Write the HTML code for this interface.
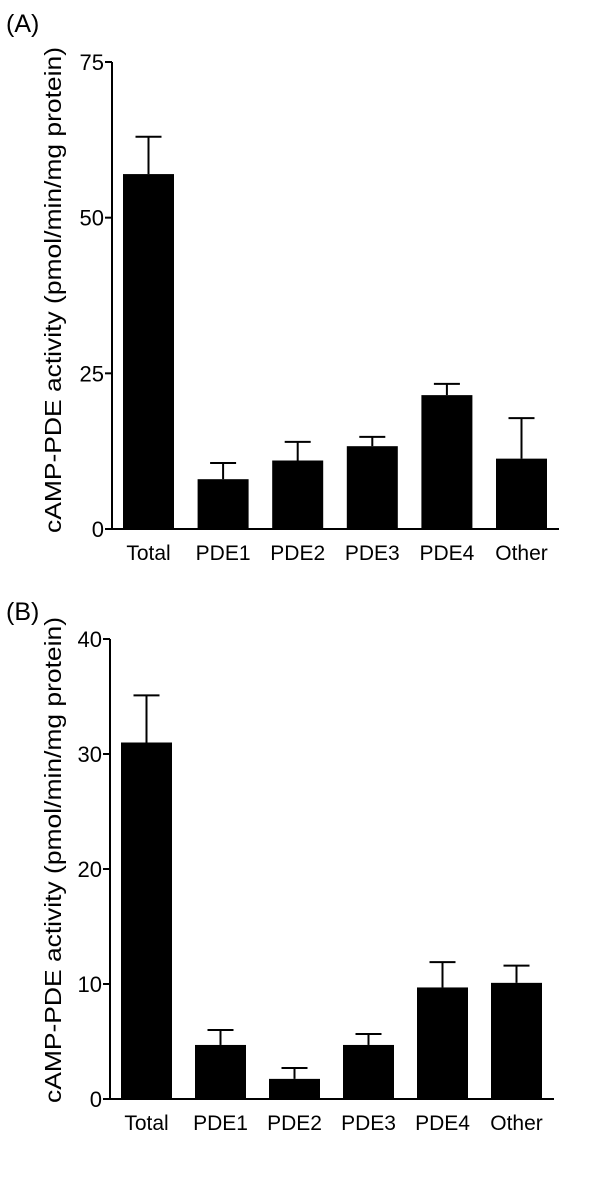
<!DOCTYPE html>
<html><head><meta charset="utf-8"><style>
body{margin:0;background:#fff;}
svg text{font-family:"Liberation Sans",sans-serif;fill:#000;}
</style></head><body>
<svg id="chart" width="600" height="1175" xmlns="http://www.w3.org/2000/svg"></svg>
<script>
const categories = ["Total","PDE1","PDE2","PDE3","PDE4","Other"];
const valuesA = [57, 8.0, 11.0, 13.3, 21.5, 11.3];
const errorsA = [63, 10.6, 14.0, 14.8, 23.3, 17.8];
const ticksA = [0, 25, 50, 75];
const valuesB = [31.0, 4.7, 1.75, 4.7, 9.7, 10.1];
const errorsB = [35.1, 6.0, 2.7, 5.65, 11.9, 11.6];
const ticksB = [0, 10, 20, 30, 40];

const svg = document.getElementById('chart');
const NS = "http://www.w3.org/2000/svg";
function mk(tag, attrs, parent){
  const e = document.createElementNS(NS, tag);
  for (const k in attrs) e.setAttribute(k, attrs[k]);
  (parent||svg).appendChild(e);
  return e;
}
function panel(cfg){
  const g = mk('g', {});
  
  
  const y = v => cfg.y0 - v / cfg.ymax * (cfg.y0 - cfg.yTop);
  const x = i => cfg.x0 + i * cfg.step;
  const lbl = mk('text', {x: 6, y: cfg.labelY, 'font-size': 25}, g);
  lbl.textContent = '(' + cfg.id + ')';
  
  
  const ya = mk('line', {x1: cfg.ax, x2: cfg.ax, y1: y(cfg.ymax), y2: cfg.y0, stroke: '#000', 'stroke-width': 2}, g);
  
  
  const xa = mk('line', {x1: cfg.ax - 1, x2: cfg.xEnd, y1: cfg.y0, y2: cfg.y0, stroke: '#000', 'stroke-width': 2}, g);
  
  
  cfg.ticks.forEach(t => {
    mk('line', {x1: cfg.ax - 7, x2: cfg.ax, y1: y(t), y2: y(t), stroke: '#000', 'stroke-width': 2}, g);
    const tx = mk('text', {x: cfg.ax - 8, y: y(t) + 8, 'font-size': 22, 'text-anchor': 'end'}, g);
    tx.textContent = t;
    
    
  });
  const title = mk('text', {x: 0, y: 0, 'font-size': 23, 'text-anchor': 'middle',
    textLength: cfg.titleLen, lengthAdjust: 'spacingAndGlyphs',
    transform: 'translate(61,' + cfg.titleY + ') rotate(-90)'}, g);
  title.textContent = 'cAMP-PDE activity (pmol/min/mg protein)';
  
  
  categories.forEach((c, i) => {
    const bx = x(i), w = cfg.bw, cx = bx + w / 2;
    const el = mk('line', {x1: cx, x2: cx, y1: y(cfg.errs[i]), y2: y(cfg.vals[i]), stroke: '#000', 'stroke-width': 2}, g);
    
    
    const cap = mk('line', {x1: cx - 13, x2: cx + 13, y1: y(cfg.errs[i]), y2: y(cfg.errs[i]), stroke: '#000', 'stroke-width': 2}, g);
    
    
    const r = mk('rect', {x: bx, y: y(cfg.vals[i]), width: w, height: cfg.y0 - y(cfg.vals[i]), fill: '#000'}, g);
    
    
    const t = mk('text', {x: cx, y: cfg.y0 + 31, 'font-size': 21, 'text-anchor': 'middle'}, g);
    t.textContent = c;
    
    
  });
}
panel({id: 'A', labelY: 32, ax: 112, xEnd: 559, y0: 529, yTop: 62, ymax: 75, ticks: ticksA,
  x0: 123, step: 74.6, bw: 51, vals: valuesA, errs: errorsA, titleY: 290, titleLen: 486});
panel({id: 'B', labelY: 620, ax: 110, xEnd: 554, y0: 1099, yTop: 639, ymax: 40, ticks: ticksB,
  x0: 121, step: 74, bw: 51, vals: valuesB, errs: errorsB, titleY: 860, titleLen: 486});
</script>
</body></html>
